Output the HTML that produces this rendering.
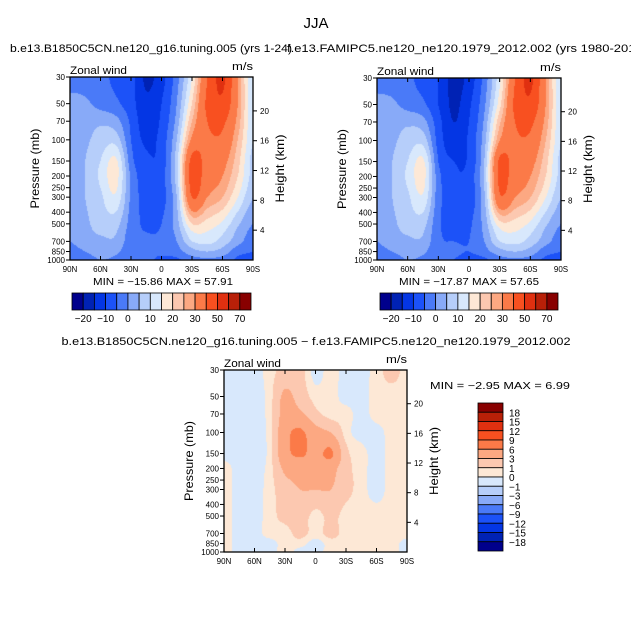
<!DOCTYPE html>
<html><head><meta charset="utf-8">
<style>
body{margin:0;background:#fff;width:631px;height:630px;overflow:hidden;position:relative;font-family:"Liberation Sans",sans-serif;}
svg{position:absolute;left:0;top:0}
canvas{position:absolute}
text{font-family:"Liberation Sans",sans-serif;fill:#000}
</style></head><body>
<canvas id="c1" width="183" height="183" style="left:70px;top:77px"></canvas>
<canvas id="c2" width="184" height="182" style="left:377px;top:78px"></canvas>
<canvas id="c3" width="183" height="182" style="left:224px;top:370px"></canvas>
<svg id="s" width="631" height="630"></svg>
<script>
const lats=[90,75,60,45,30,15,0,-15,-30,-45,-60,-75,-90];
const levels=[30,50,70,100,150,200,300,500,700,850,1000];
const xTickLabels=["90N","60N","30N","0","30S","60S","90S"];
const pTicks=[30,50,70,100,150,200,250,300,400,500,700,850,1000];
const zTicks=[4,8,12,16,20];
const topLevels=[-20,-15,-10,-5,0,5,10,15,20,25,30,40,50,60,70];
const topLabels=["-20","-10","0","10","20","30","50","70"];
const diffLevels=[-18,-15,-12,-9,-6,-3,-1,0,1,3,6,9,12,15,18];
const colors=["#00008c","#0022b4","#0436e4","#1c52f8","#4a7af8","#88aaf8","#b6cefa","#d8e8fc","#fde8d6","#fcc8b0","#fca882","#fb7a48","#f85020","#e03010","#b82008","#880000"];
const uLeft=[
[-3,-3,-4,-6,-8,-16,-12,-2,15,40,52,30,10],
[2,1,-2,-4,-8,-14,-10,0,20,42,48,30,10],
[2,3,4,2,-6,-13,-9,2,25,40,42,28,10],
[2,4,7,8,-5,-11,-8,5,32,38,38,25,10],
[2,5,10,16,-3,-9,-8,8,43,36,33,22,8],
[2,5,11,17,-1,-8,-7,8,44,35,30,20,8],
[2,5,9,14,-1,-7,-7,5,40,30,25,15,5],
[2,4,7,7,-2,-6,-5,3,20,18,14,6,0],
[0,3,4,4,-3,-4,-4,0,10,12,8,2,-3],
[-2,0,2,1,-3,-4,-4,-2,3,5,3,-3,-5],
[-3,-2,0,-1,-4,-4,-6,-6,-2,-1,-2,-6,-6]];
const uRight=[
[-3,-3,-4,-7,-10,-17,-13,-3,14,40,52,30,10],
[2,1,-2,-4,-10,-16,-11,-1,18,42,48,30,10],
[2,3,4,2,-8,-15,-10,1,24,40,42,28,10],
[2,4,7,8,-7,-13,-9,3,30,38,38,25,10],
[2,5,10,16,-5,-10,-9,5,42,36,33,22,8],
[2,5,11,17,-3,-9,-8,6,42,35,30,20,8],
[2,5,9,14,-3,-8,-8,4,38,30,25,15,5],
[2,4,7,7,-4,-7,-6,2,18,18,14,6,0],
[0,3,4,4,-4,-5,-5,0,10,12,8,2,-3],
[-2,0,2,1,-4,-4,-5,-2,3,5,3,-3,-5],
[-3,-2,0,-1,-4,-5,-7,-6,-2,-1,-2,-6,-6]];
const uDiff=[
[-0.5,-0.5,-0.5,0.5,1.5,1.5,-0.5,0.5,-0.5,-0.5,0.5,1.5,0.5],
[-0.5,-0.5,-0.5,0.5,3.5,2,0.5,0.5,-0.5,-0.5,0.5,0.5,0.5],
[-0.5,-0.5,-0.5,0.5,4,3.5,1.5,0.5,0.5,-0.5,0.5,0.5,0.5],
[-0.5,-0.5,-0.5,0.5,5,6.5,4,3,0.5,-0.5,-0.5,0.5,0.5],
[-0.5,-0.5,-0.8,0.5,5,6.5,5,6.5,1.5,0.5,-0.5,0.5,0.5],
[0.5,-0.5,-0.5,0.5,3.5,4,4,4,1.5,0.5,-0.5,0.5,0.5],
[0.5,-0.5,-0.5,0.5,2,3,3,3,1.5,0.5,-0.5,0.5,0.5],
[0.5,-0.5,-0.5,0.5,1.5,2,0.5,1.5,0.5,0.5,0.5,0.5,0.5],
[0.5,-0.5,-0.5,0.5,0.5,1.5,0.5,1.5,0.5,0.5,0.5,0.5,0.5],
[0.5,-0.5,-0.5,-0.5,0.5,0.5,-0.5,0.5,0.5,0.5,0.5,0.5,-0.5],
[0.5,-0.5,-0.5,-0.5,0.5,-0.5,-0.5,0.5,0.5,0.5,0.5,0.5,-0.5]];

const LP0=Math.log(30),LP1=Math.log(1000);
function yFrac(p){return (Math.log(p)-LP0)/(LP1-LP0);}
function hexRgb(h){return [parseInt(h.substr(1,2),16),parseInt(h.substr(3,2),16),parseInt(h.substr(5,2),16)];}
const rgb=colors.map(hexRgb);
function colorIdx(v,lv){let k=0;while(k<lv.length&&v>=lv[k])k++;return k;}
const lvFr=levels.map(yFrac);
function cr(p0,p1,p2,p3,t){return 0.5*((2*p1)+(-p0+p2)*t+(2*p0-5*p1+4*p2-p3)*t*t+(-p0+3*p1-3*p2+p3)*t*t*t);}
function g(grid,j,i){j=Math.max(0,Math.min(grid.length-1,j));i=Math.max(0,Math.min(grid[0].length-1,i));return grid[j][i];}
function sample(grid,fx,fy){
  const lx=fx*(lats.length-1);let i=Math.min(Math.floor(lx),lats.length-2);const tx=lx-i;
  let j=0;while(j<levels.length-2&&fy>lvFr[j+1])j++;
  const ty=Math.max(0,Math.min(1,(fy-lvFr[j])/(lvFr[j+1]-lvFr[j])));
  const r=[];for(let m=-1;m<=2;m++){r.push(cr(g(grid,j+m,i-1),g(grid,j+m,i),g(grid,j+m,i+1),g(grid,j+m,i+2),tx));}
  return cr(r[0],r[1],r[2],r[3],ty);
}
function drawField(id,grid,lv){
  const c=document.getElementById(id),ctx=c.getContext('2d');const W=c.width,H=c.height;
  const img=ctx.createImageData(W,H);
  for(let y=0;y<H;y++)for(let x=0;x<W;x++){
    const v=sample(grid,(x+0.5)/W,(y+0.5)/H);const col=rgb[colorIdx(v,lv)];
    const o=(y*W+x)*4;img.data[o]=col[0];img.data[o+1]=col[1];img.data[o+2]=col[2];img.data[o+3]=255;}
  ctx.putImageData(img,0,0);
}
drawField('c1',uLeft,topLevels);
drawField('c2',uRight,topLevels);
drawField('c3',uDiff,diffLevels);

const S=document.getElementById('s');const NS="http://www.w3.org/2000/svg";
function el(t,a,txt){const e=document.createElementNS(NS,t);for(const k in a)e.setAttribute(k,a[k]);if(txt!==undefined)e.textContent=txt;S.appendChild(e);return e;}
function txt(x,y,s,size,anchor,name,len){const e=el('text',{x:x,y:y,'font-size':size,'text-anchor':anchor||'start'},s);
if(len){e.setAttribute('textLength',len);e.setAttribute('lengthAdjust','spacingAndGlyphs');}

return e;}

function axes(L,T,W,H,pfx){
  const r=el('rect',{x:L,y:T,width:W,height:H,fill:'none',stroke:'#000','stroke-width':1.3});
  
  
  xTickLabels.forEach((s,i)=>{const x=L+W*i/6;
    el('line',{x1:x,y1:T+H,x2:x,y2:T+H-4,stroke:'#000'});el('line',{x1:x,y1:T,x2:x,y2:T+4,stroke:'#000'});
    txt(x,T+H+12,s,8,'middle',pfx+'-x-tick-label');});
  pTicks.forEach(p=>{const y=T+H*yFrac(p);el('line',{x1:L,y1:y,x2:L-4,y2:y,stroke:'#000'});
    txt(L-5,y+3,String(p),8,'end',pfx+'-pressure-tick-label');});
  zTicks.forEach(z=>{const p=1000*Math.exp(-z/7);const y=T+H*yFrac(p);
    el('line',{x1:L+W,y1:y,x2:L+W+4,y2:y,stroke:'#000'});txt(L+W+7,y+3,String(z),8,'start',pfx+'-height-tick-label');});
  const a=txt(L-31,T+H/2,'Pressure (mb)',12,'middle',pfx+'-y-axis-title',80);a.setAttribute('transform',`rotate(-90 ${L-31} ${T+H/2})`);
  const b=txt(L+W+31,T+H/2,'Height (km)',12,'middle',pfx+'-right-axis-title',68);b.setAttribute('transform',`rotate(-90 ${L+W+31} ${T+H/2})`);
  txt(L,T-3,'Zonal wind',11,'start',pfx+'-variable-label',57);
  txt(L+W,T-7,'m/s',11,'end',pfx+'-units-label',21);
}
axes(70,77,183,183,'left');
axes(377,78,184,182,'right');
axes(224,370,183,182,'diff');

txt(316,28,'JJA',15,'middle','main-title',25);
txt(10,52,'b.e13.B1850C5CN.ne120_g16.tuning.005 (yrs 1-24)',11,'start','left-subtitle',282);
txt(287,52,'f.e13.FAMIPC5.ne120_ne120.1979_2012.002 (yrs 1980-2012)',11,'start','right-subtitle',360);
txt(316,345,'b.e13.B1850C5CN.ne120_g16.tuning.005 \u2212 f.e13.FAMIPC5.ne120_ne120.1979_2012.002',11,'middle','diff-title',509);
txt(163,285,'MIN = \u221215.86   MAX =  57.91',10,'middle','left-min-max',140);
txt(469,285,'MIN = \u221217.87   MAX =  57.65',10,'middle','right-min-max',140);
txt(570,389,'MIN =    \u22122.95   MAX =    6.99',10,'end','diff-min-max',140);

function hbar(L,T,W,H,pfx){const bw=W/colors.length;
  colors.forEach((c,i)=>{const r=el('rect',{x:L+i*bw,y:T,width:bw,height:H,fill:c,stroke:'#000','stroke-width':0.8});
    
    });
  topLabels.forEach((s,i)=>{txt(L+bw*(1+2*i),T+H+12,s.replace('-','\u2212'),10,'middle',pfx+'-colorbar-label');});
}
hbar(72,293,179,17,'left');
hbar(380,293,178,17,'right');
(function(){const L=478,T=403,W=25,H=148,bh=H/colors.length;
  for(let i=0;i<colors.length;i++){const r=el('rect',{x:L,y:T+i*bh,width:W,height:bh,fill:colors[colors.length-1-i],stroke:'#000','stroke-width':0.8});
    
    }
  for(let k=0;k<diffLevels.length;k++){const v=diffLevels[diffLevels.length-1-k];
    txt(L+W+6,T+bh*(k+1)+4,String(v).replace('-','\u2212'),10,'start','diff-colorbar-label');}
})();
</script>
</body></html>
